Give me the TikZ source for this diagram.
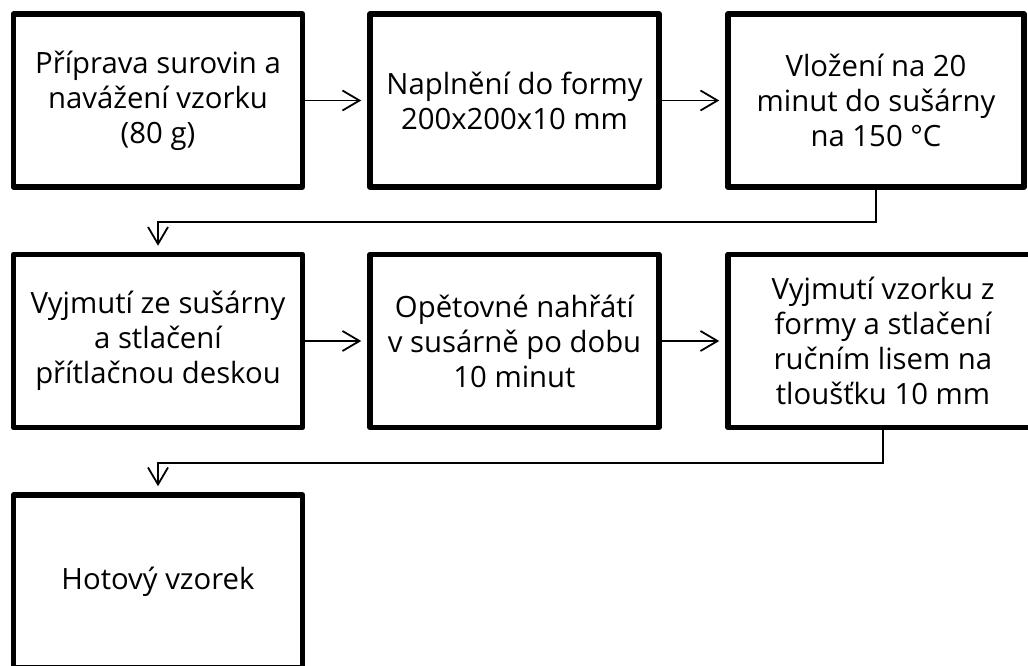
\documentclass[tikz,border=0pt]{standalone}
\usepackage{fontspec}
\setmainfont{Open Sans}
\usetikzlibrary{arrows.meta}
\begin{document}
\begin{tikzpicture}[x=1pt,y=-1pt,
  box/.style={draw, line width=5.5pt, minimum width=289pt, minimum height=173pt, align=center,
    font=\fontsize{29.3}{35}\selectfont, inner sep=0pt, line join=round},
  conn/.style={line width=1.8pt, -{Straight Barb[length=17pt,width=20pt,line width=1.8pt]}, shorten >=6pt}]
\useasboundingbox (0,0) rectangle (1028,666);
\node[box] (b1) at (158,100.5) {Příprava surovin a\\navážení vzorku\\(80 g)};
\node[box] (b2) at (514.5,100.5) {Naplnění do formy\\200x200x10 mm};
\node[box, minimum width=296pt] (b3) at (876,100.5) {Vložení na 20\\minut do sušárny\\na 150 °C};
\node[box] (b4) at (158,341) {Vyjmutí ze sušárny\\a stlačení\\přítlačnou deskou};
\node[box] (b5) at (514.5,341) {Opětovné nahřátí\\v susárně po dobu\\10 minut};
\node[box, minimum width=310pt] (b6) at (883,341) {Vyjmutí vzorku z\\formy a stlačení\\ručním lisem na\\tloušťku 10 mm};
\node[box] (b7) at (158,581.5) {Hotový vzorek};
\draw[conn] (b1.east) -- (b2.west);
\draw[conn] (b2.east) -- (b3.west);
\draw[conn] (b4.east) -- (b5.west);
\draw[conn] (b5.east) -- (b6.west);
\draw[conn] (b3.south) -- ++(0,32) -| (b4.north);
\draw[conn] (b6.south) -- ++(0,33) -| (b7.north);
\end{tikzpicture}
\end{document}
